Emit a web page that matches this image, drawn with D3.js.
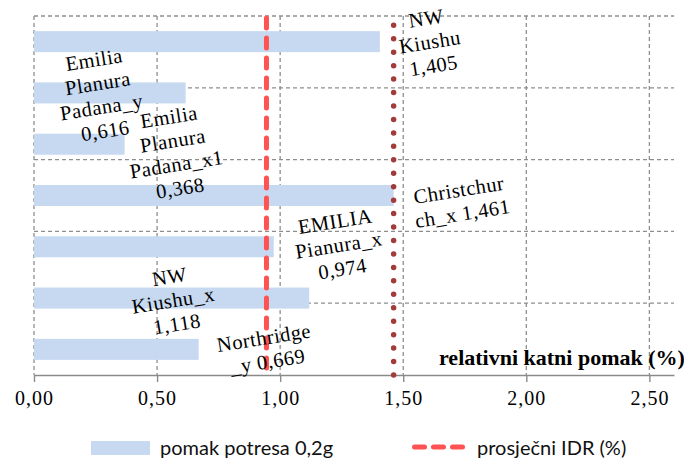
<!DOCTYPE html>
<html>
<head>
<meta charset="utf-8">
<script src="https://cdn.jsdelivr.net/npm/d3@7/dist/d3.min.js"></script>
<style>
  html, body { margin: 0; padding: 0; background: #fff; }
  svg { display: block; }
</style>
</head>
<body>
<script>
// ---- data ----
const categories = ["NW Kiushu", "Emilia Planura Padana_y", "Emilia Planura Padana_x1", "Christchurch_x", "EMILIA Pianura_x", "NW Kiushu_x", "Northridge_y"];
const values = [1.405, 0.616, 0.368, 1.461, 0.974, 1.118, 0.669];
const labelLines = [
  ["NW", "Kiushu", "{v}"],
  ["Emilia", "Planura", "Padana_y", "{v}"],
  ["Emilia", "Planura", "Padana_x1", "{v}"],
  ["Christchur", "ch_x {v}"],
  ["EMILIA", "Pianura_x", "{v}"],
  ["NW", "Kiushu_x", "{v}"],
  ["Northridge", "_y {v}"]
];
const xTicks = [0, 0.5, 1.0, 1.5, 2.0, 2.5];
const seriesNames = ["pomak potresa 0,2g", "prosječni IDR (%)"];
const axisTitle = "relativni katni pomak (%)";

// ---- layout ----
const W = 684, H = 464;
const plot = { left: 34, right: 674, top: 16, bottom: 375 };
const labelOffsets = [[50, 0], [-86, 2], [50, 8], [67, 6], [65, -2], [-136, 2], [67, 0]];
const colors = { bar: "#C6D9F0", avg: "#FF5252", max: "#A23B3B", grid: "#8E8E8E", axis: "#8A8A8A" };

const avgIDR = d3.mean(values);
const maxIDR = d3.max(values);
const fmt = v => d3.format(".3f")(v).replace(".", ",");
const fmtTick = v => d3.format(".2f")(v).replace(".", ",");

const svg = d3.select("body").append("svg").attr("width", W).attr("height", H);

const x = d3.scaleLinear().domain([0, 2.6]).range([plot.left, plot.right]);
const y = d3.scaleBand().domain(categories).range([plot.top, plot.bottom]).paddingInner(0.59).paddingOuter(0.295);
const yGrid = d3.scaleLinear().domain([0, 5]).range([plot.bottom, plot.top]);

// gridlines
const grid = svg.append("g").attr("stroke", colors.grid).attr("stroke-width", 1.3).attr("stroke-dasharray", "4,3").attr("fill", "none");
grid.selectAll("line.h").data([1, 2, 3, 4, 5]).join("line").attr("class", "h")
  .attr("x1", plot.left).attr("x2", plot.right)
  .attr("y1", d => yGrid(d)).attr("y2", d => yGrid(d));
grid.selectAll("line.v").data(xTicks).join("line").attr("class", "v")
  .attr("x1", d => x(d)).attr("x2", d => x(d))
  .attr("y1", plot.top).attr("y2", plot.bottom);

// bars
svg.append("g").selectAll("rect").data(categories).join("rect")
  .attr("x", x(0)).attr("y", d => y(d))
  .attr("width", (d, i) => x(values[i]) - x(0))
  .attr("height", y.bandwidth())
  .attr("fill", colors.bar);

// x axis
const xAxis = d3.axisBottom(x).tickValues(xTicks).tickFormat(fmtTick).tickSize(7).tickSizeOuter(0);
const gx = svg.append("g").attr("transform", `translate(0,${plot.bottom})`).call(xAxis);
gx.select(".domain").attr("stroke", colors.axis).attr("stroke-width", 1.6);
gx.selectAll(".tick line").attr("stroke", colors.axis).attr("stroke-width", 1.4);
gx.selectAll(".tick text").attr("fill", "#000").attr("font-family", "Liberation Serif")
  .attr("font-size", 20).attr("letter-spacing", 1).attr("y", 16).attr("dy", "0.71em");

// max (dotted) line
svg.append("line")
  .attr("x1", x(maxIDR)).attr("x2", x(maxIDR))
  .attr("y1", plot.bottom).attr("y2", plot.top)
  .attr("stroke", colors.max).attr("stroke-width", 5.5)
  .attr("stroke-linecap", "round").attr("stroke-dasharray", "0,13.45");

// average (dashed) line
svg.append("line")
  .attr("x1", x(avgIDR)).attr("x2", x(avgIDR))
  .attr("y1", plot.top + 2).attr("y2", plot.bottom)
  .attr("stroke", colors.avg).attr("stroke-width", 5)
  .attr("stroke-linecap", "round").attr("stroke-dasharray", "10,10");

// data labels
const labels = svg.append("g").attr("font-family", "Liberation Serif").attr("font-size", 20.5).attr("fill", "#000");
categories.forEach((c, i) => {
  const lines = labelLines[i].map(s => s.replace("{v}", fmt(values[i])));
  const cx = x(values[i]) + labelOffsets[i][0];
  const cy = y(c) + y.bandwidth() / 2 + labelOffsets[i][1];
  const g = labels.append("g").attr("transform", `translate(${cx},${cy}) rotate(-9)`);
  g.selectAll("text").data(lines).join("text")
    .attr("text-anchor", "middle")
    .attr("letter-spacing", 0.5)
    .attr("y", (d, k) => (k - (lines.length - 1) / 2) * 24)
    .attr("dy", "0.35em")
    .text(d => d);
});

// axis title
svg.append("text").attr("x", 439).attr("y", 365)
  .attr("font-family", "Liberation Serif").attr("font-weight", "bold").attr("font-size", 22)
  .attr("fill", "#000").text(axisTitle);

// legend
const leg = svg.append("g");
leg.append("rect").attr("x", 91).attr("y", 441).attr("width", 59).attr("height", 14).attr("fill", colors.bar);
leg.append("text").attr("x", 160).attr("y", 455).attr("font-family", "Lato").attr("font-size", 20).attr("fill", "#111").text(seriesNames[0]);
leg.append("line").attr("x1", 414.5).attr("x2", 462.5).attr("y1", 447).attr("y2", 447)
  .attr("stroke", colors.avg).attr("stroke-width", 5).attr("stroke-linecap", "round").attr("stroke-dasharray", "10,9");
leg.append("text").attr("x", 477).attr("y", 455).attr("font-family", "Lato").attr("font-size", 20).attr("fill", "#111").text(seriesNames[1]);
</script>
</body>
</html>
